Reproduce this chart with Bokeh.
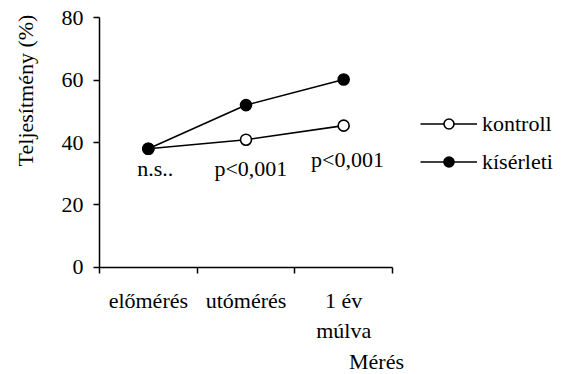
from bokeh.plotting import figure
from bokeh.models import (Range1d, FixedTicker, Legend, LegendItem, Label)
from bokeh.embed import file_html
from bokeh.resources import INLINE
import math

categories = ["előmérés", "utómérés", "1 év\nmúlva"]
kontroll = [38.0, 40.9, 45.4]
kiserleti = [38.0, 52.0, 60.2]
significance = ["n.s..", "p<0,001", "p<0,001"]
y_ticks = [0, 20, 40, 60, 80]

FONT = "'Liberation Serif', 'Times New Roman', Times, serif"
FSN = 22
FS = f"{FSN}px"
MID = 0.338 * FSN          # distance baseline -> middle of text box

W, H = 563, 374
# pixel layout of the axes box
X0, X1 = 99.0, 392.0       # x pixels of category range 0..3
Y0, Y1 = 266.7, 17.3       # y pixels of value 0 and 80
ncat = len(categories)
ymax = y_ticks[-1]
kx = (X1 - X0) / ncat
ky = (Y0 - Y1) / ymax


def dx(px):
    return (px - X0) / kx


def dy(py):
    return (Y0 - py) / ky


xs = [i + 0.5 for i in range(ncat)]

p = figure(width=W, height=H, output_backend="svg", toolbar_location=None,
           x_range=Range1d(dx(0), dx(W)), y_range=Range1d(dy(H), dy(0)),
           min_border=0, min_border_left=0, min_border_right=0,
           min_border_top=0, min_border_bottom=0)
p.outline_line_color = None
p.xgrid.visible = False
p.ygrid.visible = False
p.background_fill_color = "white"
p.border_fill_color = "white"

# axes
xa = p.xaxis[0]
xa.fixed_location = 0
xa.bounds = (0, ncat)
xa.ticker = FixedTicker(ticks=xs, minor_ticks=list(range(ncat + 1)))
xa.major_label_overrides = {x: c for x, c in zip(xs, categories)}
xa.major_tick_out = 0
xa.major_tick_in = 0
xa.minor_tick_out = 6
xa.minor_tick_in = 0
xa.minor_tick_line_color = "black"
xa.minor_tick_line_width = 1.5
xa.axis_line_width = 1.5
xa.axis_line_color = "black"
xa.major_label_standoff = 15
xa.major_label_text_font = FONT
xa.major_label_text_font_size = FS
xa.major_label_text_color = "black"
xa.major_label_text_line_height = 1.2

ya = p.yaxis[0]
ya.fixed_location = 0
ya.bounds = (0, ymax)
ya.ticker = FixedTicker(ticks=y_ticks)
ya.major_tick_out = 6
ya.major_tick_in = 0
ya.minor_tick_line_color = None
ya.major_tick_line_color = "black"
ya.major_tick_line_width = 1.5
ya.axis_line_width = 1.5
ya.axis_line_color = "black"
ya.major_label_standoff = 10
ya.major_label_text_font = FONT
ya.major_label_text_font_size = FS
ya.major_label_text_color = "black"

# series
l1 = p.line(xs, kontroll, line_color="black", line_width=1.6)
s1 = p.scatter(xs, kontroll, size=11, marker="circle", fill_color="white",
               line_color="black", line_width=1.6)
l2 = p.line(xs, kiserleti, line_color="black", line_width=1.6)
s2 = p.scatter(xs, kiserleti, size=11, marker="circle", fill_color="black",
               line_color="black", line_width=1.6)

legend = Legend(items=[LegendItem(label="kontroll", renderers=[l1, s1]),
                       LegendItem(label="kísérleti", renderers=[l2, s2])],
                location=(420, H - 174.5), glyph_width=57, glyph_height=25,
                label_height=25, label_standoff=5, spacing=12,
                padding=0, margin=0, border_line_alpha=0,
                background_fill_alpha=0,
                label_text_font=FONT, label_text_font_size=FS,
                label_text_color="black")
p.add_layout(legend, "center")

# significance notes (baseline pixel positions from the reference)
note_dx = [0.57, 0.55, 0.54]
note_base = [175, 175, 166]
for i, t in enumerate(significance):
    p.add_layout(Label(x=i + note_dx[i], y=dy(note_base[i] - MID), text=t,
                       text_align="center", text_baseline="middle",
                       text_font=FONT, text_font_size=FS, text_color="black"))

# axis titles
p.add_layout(Label(x=dx(32 - MID), y=dy(90), text="Teljesítmény (%)",
                   angle=math.pi / 2, text_align="center",
                   text_baseline="middle", text_font=FONT,
                   text_font_size=FS, text_color="black"))
p.add_layout(Label(x=dx(376), y=dy(368 - MID), text="Mérés",
                   text_align="center", text_baseline="middle",
                   text_font=FONT, text_font_size=FS, text_color="black"))

open("out.html", "w").write(file_html(p, INLINE))
